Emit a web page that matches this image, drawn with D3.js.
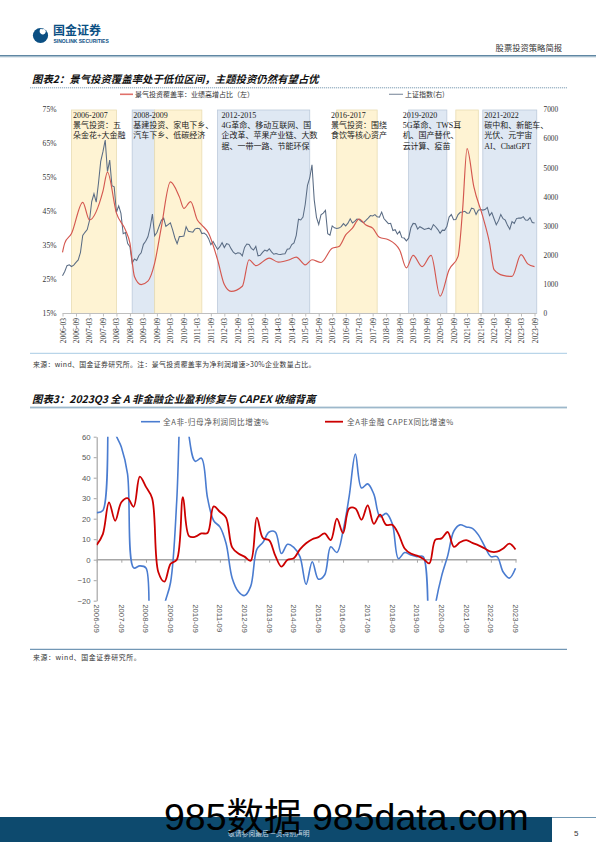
<!DOCTYPE html>
<html><head><meta charset="utf-8">
<script src="https://cdn.jsdelivr.net/npm/d3@7"></script>
<style>body{margin:0;background:#fff}svg{display:block}</style>
</head><body>
<svg id="c" width="596" height="843"></svg>
<script>
// ================= DATA =================
// Chart 1 (图表2)
const tickLabels1 = ["2006-03","2006-09","2007-03","2007-09","2008-03","2008-09","2009-03","2009-09","2010-03","2010-09","2011-03","2011-09","2012-03","2012-09","2013-03","2013-09","2014-03","2014-09","2015-03","2015-09","2016-03","2016-09","2017-03","2017-09","2018-03","2018-09","2019-03","2019-09","2020-03","2020-09","2021-03","2021-09","2022-03","2022-09","2023-03","2023-09"];
const leftTicks1 = [15,25,35,45,55,65,75];
const rightTicks1 = [0,1000,2000,3000,4000,5000,6000,7000];
// 上证指数, monthly from 2006-03 to 2023-09
const shStart = "2006-03";
const shValues = [
1299,1440,1641,1672,1612,1658,1752,1837,2099,2675,
2786,2881,3183,3841,4109,3820,4471,5218,5552,5954,4871,5262,
4383,4348,3473,3693,3433,2736,2775,2397,2293,1729,1871,1821,
1991,2082,2373,2477,2633,2959,3412,2667,2779,2996,3195,3277,
2989,3051,3110,2871,2592,2398,2638,2639,2656,2979,2820,2808,
2791,2905,2928,2911,2743,2762,2701,2568,2359,2468,2333,2199,
2292,2428,2263,2397,2373,2226,2103,2047,2086,2069,1980,2269,
2385,2365,2237,2178,2301,1979,1994,2098,2175,2142,2220,2116,
2033,2056,2033,2026,2039,2048,2202,2217,2364,2420,2683,3235,
3210,3310,3748,4400,4650,5100,3900,3300,3053,3383,3445,3539,
2738,2688,3004,2938,2917,2930,2979,3085,3005,3100,3250,3104,
3159,3242,3223,3155,3117,3192,3273,3361,3349,3393,3317,3307,
3481,3259,3169,3082,3095,2847,2876,2725,2821,2603,2588,2494,
2585,2941,3091,3078,2899,2979,2933,2886,2905,2929,2872,3050,
2977,2880,2750,2860,2852,2985,3310,3396,3218,3225,3392,3473,
3483,3509,3442,3447,3615,3591,3397,3544,3568,3547,3564,3640,
3361,3462,3252,3047,3186,3399,3253,3202,3024,2893,3151,3089,
3256,3280,3273,3323,3205,3202,3291,3120,3110];
// 景气投资覆盖率 (%)
const covDates = ["2006-03","2006-04","2006-07","2006-12","2007-03","2007-09","2007-11","2008-03","2008-07","2008-09","2008-11","2009-02","2009-05","2009-08","2009-11","2010-03","2010-07","2010-09","2010-12","2011-03","2011-05","2011-08","2011-12","2012-03","2012-06","2012-11","2013-02","2013-05","2013-11","2014-03","2014-08","2014-11","2015-03","2015-06","2015-10","2016-03","2016-06","2016-09","2016-12","2017-03","2017-06","2017-09","2017-12","2018-04","2018-09","2018-12","2019-03","2019-07","2019-11","2020-03","2020-07","2020-11","2021-01","2021-03","2021-06","2021-10","2022-01","2022-03","2022-07","2022-11","2023-03","2023-06","2023-09"];
const covValues = [33,35.7,38.5,47.7,42.5,51,56.6,44.5,39.6,35.7,25.9,23.5,24.5,29.8,40.5,53.7,49.3,45.9,47.9,42.5,41,38.6,30.8,23.5,21.5,23,30.8,29.1,31.3,30.1,30.8,31.6,29.3,30.8,30,34.2,34.7,38.1,40.1,42.8,41,40.1,37.4,36.7,33.7,28.4,32.1,28.8,32.1,20.1,27.9,31.8,45.4,63.5,52.3,43.5,35.7,27.9,26.2,25.9,32.3,29.6,28.8];
// shaded periods
const bandStarts = ["2006-07","2008-10","2009-08","2011-12","2016-05","2019-01","2020-10","2021-10"];
const bandEnds   = ["2008-03","2009-08","2011-05","2015-05","2017-11","2020-06","2021-08","2023-10"];
const bandKinds  = ["yellow","blue","yellow","blue","yellow","blue","yellow","blue"];
const bandLabels = [
  ["2006-2007","景气投资：五","朵金花+大金融"],
  ["2008-2009","基建投资、家电下乡、","汽车下乡、低碳经济"],
  [],
  ["2012-2015","4G革命、移动互联网、国","企改革、苹果产业链、大数","据、一带一路、节能环保"],
  ["2016-2017","景气投资：围绕","食饮等核心资产"],
  ["2019-2020","5G革命、TWS耳","机、国产替代、","云计算、疫苗"],
  [],
  ["2021-2022","碳中和、新能车、","光伏、元宇宙","AI、ChatGPT"]
];

// Chart 2 (图表3) quarterly, 2006Q3 .. 2023Q3
const quarters = ["2006Q3","2006Q4","2007Q1","2007Q2","2007Q3","2007Q4","2008Q1","2008Q2","2008Q3","2008Q4","2009Q1","2009Q2","2009Q3","2009Q4","2010Q1","2010Q2","2010Q3","2010Q4","2011Q1","2011Q2","2011Q3","2011Q4","2012Q1","2012Q2","2012Q3","2012Q4","2013Q1","2013Q2","2013Q3","2013Q4","2014Q1","2014Q2","2014Q3","2014Q4","2015Q1","2015Q2","2015Q3","2015Q4","2016Q1","2016Q2","2016Q3","2016Q4","2017Q1","2017Q2","2017Q3","2017Q4","2018Q1","2018Q2","2018Q3","2018Q4","2019Q1","2019Q2","2019Q3","2019Q4","2020Q1","2020Q2","2020Q3","2020Q4","2021Q1","2021Q2","2021Q3","2021Q4","2022Q1","2022Q2","2022Q3","2022Q4","2023Q1","2023Q2","2023Q3"];
const profitYoY = [23,24,85,62,55,42,-4,-3,-4,-40,-40,-22,-11,29,110,60,48,49.5,30,19,16,8,-9,-15.5,-17.5,-13,5,8.5,13.5,13.5,3,7.5,6,1.5,-12,-1,-9.5,-7.5,6.3,3.5,14,31,51.5,35,37,32,21,22.6,17.5,0.5,3.5,2.3,1.5,1.5,-50,-22,-8,2,14,17,16,15.3,12,6.5,1.5,1.5,-6,-9,-4.2];
const capexYoY  = [7.2,12.5,28,19,28,30,25.8,40.5,35.5,30,-6,-10.7,-2,0,30.5,11.5,11.2,12.8,13,26,23.4,20.5,6,3,1.5,-0.5,20.5,10.5,9.5,2,-3.4,0,0.7,5,8,10,11,12.8,9.6,20,13,25,25,19.5,26.5,17.5,22,17,17,12.5,5.5,3,2,0.5,-1.8,9.8,10.4,13.5,6.3,8.5,9.5,8.2,7,5.5,3.9,3.9,5.5,7.8,5];
const yearLabels2 = ["2006-09","2007-09","2008-09","2009-09","2010-09","2011-09","2012-09","2013-09","2014-09","2015-09","2016-09","2017-09","2018-09","2019-09","2020-09","2021-09","2022-09","2023-09"];
const yTicks2 = [-20,-10,0,10,20,30,40,50,60];

// ================= DRAW =================
const svg = d3.select('#c');
const CJK = "'Noto Sans CJK SC','Noto Sans',sans-serif";
const SERIF = "'Liberation Serif','Noto Sans CJK SC',serif";
const SANS = "'Liberation Sans',Arial,'Noto Sans CJK SC',sans-serif";

// ---- header ----
svg.append('circle').attr('cx',40.5).attr('cy',35.5).attr('r',7.6).attr('fill','#0B4F83');
svg.append('path').attr('d','M41,28.6 a3.2,3.2 0 1 0 4.6,4.2 z').attr('fill','#fff');
svg.append('circle').attr('cx',43.4).attr('cy',31.3).attr('r',2.3).attr('fill','#fff');
svg.append('text').attr('x',53).attr('y',35.2).text('国金证券')
  .attr('font-family',CJK).attr('font-weight',700).attr('font-size',12).attr('fill','#0B4F83');
svg.append('text').attr('x',53.5).attr('y',43).text('SINOLINK SECURITIES')
  .attr('font-family',SANS).attr('font-weight',700).attr('font-size',5).attr('fill','#0B4F83');
svg.append('text').attr('x',562).attr('y',51).attr('text-anchor','end').text('股票投资策略简报')
  .attr('font-family',CJK).attr('font-size',8.3).attr('fill','#333');
svg.append('rect').attr('x',0).attr('y',55).attr('width',596).attr('height',1.6).attr('fill','#5F87A3');
svg.append('rect').attr('x',0).attr('y',56.6).attr('width',596).attr('height',0.8).attr('fill','#B9CCDA');

// ---- chart 1 title ----
svg.append('text').attr('x',32).attr('y',83).text('图表2：景气投资覆盖率处于低位区间，主题投资仍然有望占优')
  .attr('font-family',CJK).attr('font-weight',700).attr('font-style','italic').attr('font-size',10.4).attr('fill','#111');
svg.append('line').attr('x1',30).attr('x2',567).attr('y1',87.8).attr('y2',87.8)
  .attr('stroke','#7E9DB4').attr('stroke-width',1).attr('stroke-dasharray','1.2,0.8');

// legend 1
svg.append('line').attr('x1',120).attr('x2',133).attr('y1',94.3).attr('y2',94.3).attr('stroke','#E0706A').attr('stroke-width',1.6);
svg.append('text').attr('x',135).attr('y',96.8).text('景气投资覆盖率：业绩高增占比（左）')
  .attr('font-family',CJK).attr('font-size',7).attr('fill','#333');
svg.append('line').attr('x1',389).attr('x2',403).attr('y1',94.3).attr('y2',94.3).attr('stroke','#8A96A6').attr('stroke-width',1.2);
svg.append('text').attr('x',405).attr('y',96.8).text('上证指数(右)')
  .attr('font-family',CJK).attr('font-size',7).attr('fill','#333');

const ix = s => { const [y,m] = s.split('-').map(Number); return (y-2006)*12 + (m-3); };
const x1 = d3.scaleLinear().domain([0,210]).range([62.5,534.5]);
const yL = d3.scaleLinear().domain([15,75]).range([313.5,109.5]);
const yR = d3.scaleLinear().domain([0,7000]).range([313.5,109.5]);

// bands
const bands = bandStarts.map((s,i)=>({s:ix(s), e:ix(bandEnds[i]), k:bandKinds[i], lab:bandLabels[i]}));
const g1 = svg.append('g');
g1.selectAll('rect.band').data(bands).join('rect').attr('class','band')
  .attr('x',d=>x1(d.s)).attr('width',d=>x1(d.e)-x1(d.s))
  .attr('y',yL(75)+0.5).attr('height',yL(15)-yL(75)-0.5)
  .attr('fill',d=>d.k==='yellow'?'#FEF3D3':'#DFE8F3')
  .attr('stroke',d=>d.k==='yellow'?'#E9DDB3':'#BCCADB').attr('stroke-width',0.8);

// x axis chart 1
const tickIdx1 = tickLabels1.map(ix);
const ax1 = g1.append('g').attr('transform',`translate(0,${yL(15)})`)
  .call(d3.axisBottom(x1).tickValues(tickIdx1).tickFormat((d,i)=>tickLabels1[i]).tickSize(3).tickSizeOuter(0));
ax1.select('.domain').attr('stroke','#BFBFBF').attr('d',`M${x1(0)},0H${x1(210)+2}`);
ax1.selectAll('line').attr('stroke','#BFBFBF');
ax1.selectAll('text').attr('transform','rotate(-90)').attr('x',-4.5).attr('y',0).attr('dy','0.33em')
  .style('text-anchor','end').attr('font-family',SERIF).attr('font-size',7.6).attr('fill','#333');

// left axis
const axL = g1.append('g').attr('transform',`translate(${x1(0)-6},0)`)
  .call(d3.axisLeft(yL).tickValues(leftTicks1).tickFormat(d=>d+'%').tickSize(0));
axL.select('.domain').remove();
axL.selectAll('text').attr('font-family',SERIF).attr('font-size',7.6).attr('fill','#333').attr('x',0);
// right axis
const axR = g1.append('g').attr('transform',`translate(${x1(210)+9},0)`)
  .call(d3.axisRight(yR).tickValues(rightTicks1).tickFormat(d3.format('d')).tickSize(0));
axR.select('.domain').remove();
axR.selectAll('text').attr('font-family',SERIF).attr('font-size',7.3).attr('fill','#333').attr('x',0);

// 上证指数 line
const shS = ix(shStart);
g1.append('path').datum(shValues).attr('fill','none').attr('stroke','#5A6C84').attr('stroke-width',1.05)
  .attr('d', d3.line().x((d,i)=>x1(shS+i)).y(d=>yR(d)));
// coverage line
const cov = covDates.map((d,i)=>({m:ix(d), v:covValues[i]}));
g1.append('path').datum(cov).attr('fill','none').attr('stroke','#D4574F').attr('stroke-width',1.15)
  .attr('d', d3.line().x(d=>x1(d.m)).y(d=>yL(d.v)).curve(d3.curveMonotoneX));

// band labels
const labDx = [1.6,1,0,4,-5.6,-6,0,1.4];
bands.forEach((b,i)=>{
  b.lab.forEach((t,j)=>{
    g1.append('text').attr('x',x1(b.s)+labDx[i]).attr('y',117.5+j*10.4).text(t)
      .attr('font-family',SERIF).attr('font-size',8).attr('fill','#222');
  });
});

// source 1
svg.append('line').attr('x1',30).attr('x2',567).attr('y1',353.3).attr('y2',353.3).attr('stroke','#A8CBE4').attr('stroke-width',1);
svg.append('text').attr('x',33).attr('y',367).text('来源：wind、国金证券研究所。注：景气投资覆盖率为净利润增速>30%企业数量占比。')
  .attr('font-family',CJK).attr('font-size',6.9).attr('letter-spacing',0.35).attr('fill','#333');

// ---- chart 2 title ----
svg.append('text').attr('x',32).attr('y',402.5).text('图表3：2023Q3 全 A 非金融企业盈利修复与 CAPEX 收缩背离')
  .attr('font-family',CJK).attr('font-weight',700).attr('font-style','italic').attr('font-size',10.4).attr('fill','#111');
svg.append('rect').attr('x',30).attr('y',406.6).attr('width',537).attr('height',1.8).attr('fill','#9DB8CB');

// legend 2
svg.append('line').attr('x1',141).attr('x2',160).attr('y1',421.7).attr('y2',421.7).attr('stroke','#4A7CD0').attr('stroke-width',1.6);
svg.append('text').attr('x',163).attr('y',424.5).text('全A非-归母净利润同比增速%')
  .attr('font-family',CJK).attr('font-size',7.6).attr('letter-spacing',0.6).attr('fill','#555');
svg.append('line').attr('x1',325).attr('x2',343).attr('y1',421.7).attr('y2',421.7).attr('stroke','#CC0000').attr('stroke-width',1.8);
svg.append('text').attr('x',347).attr('y',424.5).text('全A非金融 CAPEX同比增速%')
  .attr('font-family',CJK).attr('font-size',7.6).attr('letter-spacing',0.6).attr('fill','#555');

const x2 = d3.scaleLinear().domain([0,68]).range([96.7,515.5]);
const y2 = d3.scaleLinear().domain([-20,60]).range([600.7,436.7]);
const g2 = svg.append('g');
g2.append('clipPath').attr('id','clip2').append('rect')
  .attr('x',x2(0)).attr('y',y2(60)).attr('width',x2(68)-x2(0)+4).attr('height',y2(-20)-y2(60));

// y axis
const ay2 = g2.append('g').attr('transform',`translate(${x2(0)},0)`)
  .call(d3.axisLeft(y2).tickValues(yTicks2).tickSize(3).tickSizeOuter(0));
ay2.select('.domain').attr('stroke','#A6A6A6').attr('stroke-width',1.2);
ay2.selectAll('line').attr('stroke','#A6A6A6');
ay2.selectAll('text').attr('font-family',SANS).attr('font-size',7.8).attr('fill','#595959');

// zero axis with ticks
const xTickQ = yearLabels2.map(l => quarters.indexOf(l.slice(0,4)+'Q3'));
const ax2 = g2.append('g').attr('transform',`translate(0,${y2(0)})`)
  .call(d3.axisBottom(x2).tickValues(xTickQ).tickFormat('').tickSize(3).tickSizeOuter(0));
ax2.select('.domain').attr('stroke','#A6A6A6').attr('stroke-width',1.4).attr('d',`M${x2(0)},0H${x2(68)+1}`);
ax2.selectAll('line').attr('stroke','#A6A6A6');
// x labels at bottom
g2.selectAll('text.xl').data(yearLabels2).join('text').attr('class','xl')
  .attr('transform',(d,i)=>`translate(${x2(xTickQ[i])},${y2(-20)+3.5}) rotate(90)`)
  .attr('dy','0.33em').text(d=>d)
  .attr('font-family',SANS).attr('font-size',7.8).attr('fill','#595959');

const line2 = d3.line().x((d,i)=>x2(i)).y(d=>y2(d)).curve(d3.curveCatmullRom.alpha(0.5));
const lines2 = g2.append('g').attr('clip-path','url(#clip2)');
lines2.append('path').datum(profitYoY).attr('fill','none').attr('stroke','#4A7CD0').attr('stroke-width',1.6).attr('d',line2);
lines2.append('path').datum(capexYoY).attr('fill','none').attr('stroke','#CC0000').attr('stroke-width',1.8).attr('d',line2);

// source 2
svg.append('line').attr('x1',30).attr('x2',567).attr('y1',649.3).attr('y2',649.3).attr('stroke','#4F7EA3').attr('stroke-width',1);
svg.append('text').attr('x',33).attr('y',660).text('来源：wind、国金证券研究所。')
  .attr('font-family',CJK).attr('font-size',6.9).attr('letter-spacing',0.6).attr('fill','#333');

// ---- footer ----
svg.append('rect').attr('x',0).attr('y',817).attr('width',552).attr('height',25).attr('fill','#0D4A6E');
svg.append('line').attr('x1',552).attr('x2',596).attr('y1',817.5).attr('y2',817.5).attr('stroke','#6F97B3').attr('stroke-width',1);
svg.append('text').attr('x',228).attr('y',836).text('敬请参阅最后一页特别声明')
  .attr('font-family',CJK).attr('font-size',6.8).attr('fill','#C9D6E0');
svg.append('text').attr('x',574).attr('y',836).text('5')
  .attr('font-family',SANS).attr('font-size',8).attr('fill','#333');
svg.append('text').attr('x',164).attr('y',830).text('985数据 985data.com')
  .attr('font-family',SANS).attr('font-size',37.5).attr('fill','#000');
</script>
</body></html>
